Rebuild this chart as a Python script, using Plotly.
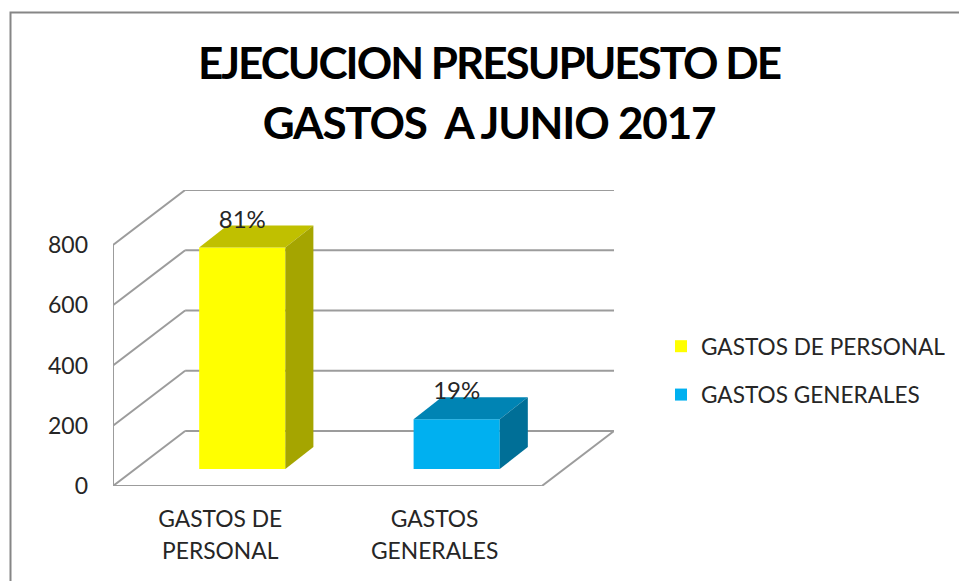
import plotly.graph_objects as go

# ---- data ----
categories = ["GASTOS DE PERSONAL", "GASTOS GENERALES"]
tick_lines = [["GASTOS DE", "PERSONAL"], ["GASTOS", "GENERALES"]]
values = [735, 165]
pct_labels = ["81%", "19%"]
y_ticks = [0, 200, 400, 600, 800]
face_colors = ["#FFFF00", "#00B0F0"]
top_colors = ["#C0C000", "#0084B4"]
side_colors = ["#A5A500", "#006F97"]

TEXT = "#262626"
GRID = "#9C9C9C"
FONT = "Lato, Carlito, 'Liberation Sans', sans-serif"

# pseudo-3D geometry, in axis units
PX_X = 214.0            # pixels per category
PX_Y = 241.0 / 800.0    # pixels per value unit
wall_dx, wall_dy = 72 / PX_X, 55 / PX_Y
bar_dx, bar_dy = 22 / PX_X, 17 / PX_Y
depth_dx, depth_dy = 28 / PX_X, 22 / PX_Y
bar_w = 86 / PX_X

fig = go.Figure()
xs = [i + bar_dx for i in range(len(values))]

for i, (name, v) in enumerate(zip(categories, values)):
    fig.add_trace(go.Bar(
        x=[xs[i]], y=[v], base=[bar_dy], width=[bar_w], name=name,
        marker=dict(color=face_colors[i], line=dict(width=0)),
        legendgroup=name, hoverinfo="skip",
    ))

for i, v in enumerate(values):
    xl, xr = xs[i] - bar_w / 2, xs[i] + bar_w / 2
    y0, y1 = bar_dy, bar_dy + v
    fig.add_trace(go.Scatter(
        x=[xl, xr, xr + depth_dx, xl + depth_dx, xl],
        y=[y1, y1, y1 + depth_dy, y1 + depth_dy, y1],
        fill="toself", fillcolor=top_colors[i], mode="none",
        showlegend=False, hoverinfo="skip"))
    fig.add_trace(go.Scatter(
        x=[xr, xr + depth_dx, xr + depth_dx, xr, xr],
        y=[y0, y0 + depth_dy, y1 + depth_dy, y1, y0],
        fill="toself", fillcolor=side_colors[i], mode="none",
        showlegend=False, hoverinfo="skip"))

fig.add_trace(go.Scatter(
    x=xs, y=[v + bar_dy + 26 / PX_Y for v in values],
    text=pct_labels, mode="text", textposition="middle center",
    textfont=dict(family=FONT, size=24, color=TEXT),
    showlegend=False, hoverinfo="skip"))

# walls and floor
x_left, x_right = -0.5, 1.5
shapes = []
def seg(x0, y0, x1, y1):
    shapes.append(dict(type="line", xref="x", yref="y", x0=x0, y0=y0, x1=x1, y1=y1,
                       layer="below", line=dict(color=GRID, width=2)))
for t in y_ticks:
    seg(x_left, t, x_left + wall_dx, t + wall_dy)
    seg(x_left + wall_dx, t + wall_dy, x_right + wall_dx, t + wall_dy)
seg(x_left, 0, x_left, y_ticks[-1])
seg(x_left, 0, x_right, 0)
seg(x_right, 0, x_right + wall_dx, wall_dy)

# outer chart frame (open on the right and at the bottom), in paper units
W, H = 959, 581
ml, mr, mt, mb = 113, 345, 190, 95
pw, ph = W - ml - mr, H - mt - mb
def px(p): return (p - ml) / pw
def py(p): return 1 - (p - mt) / ph
shapes.append(dict(type="path", xref="paper", yref="paper", layer="below",
                   path=f"M {px(10.5)} {py(581)} L {px(10.5)} {py(12.5)} L {px(959)} {py(12.5)}",
                   line=dict(color="#868686", width=2)))

span = "<span style='font-size:22.8px'>{}</span>"
ticktext = ["<br>".join(span.format(s) for s in lines) for lines in tick_lines]

fig.update_layout(
    width=W, height=H,
    margin=dict(l=ml, r=mr, t=mt, b=mb, autoexpand=False),
    paper_bgcolor="white", plot_bgcolor="rgba(0,0,0,0)",
    shapes=shapes,
    title=dict(
        text="<span style='font-size:44px;letter-spacing:-2px'>EJECUCION PRESUPUESTO DE</span><br>"
             "<span style='font-size:44px;letter-spacing:-1.2px'>GASTOS  A JUNIO 2017</span>",
        x=489 / W, xanchor="center", y=1 - 79 / H, yanchor="top",
        font=dict(family=FONT, size=46, color="#000000", weight="bold")),
    xaxis=dict(range=[x_left, x_right + wall_dx], tickmode="array", tickvals=[0, 1],
               ticktext=ticktext, tickfont=dict(family=FONT, size=24.6, color=TEXT),
               showgrid=False, zeroline=False, showline=False, ticks="",
               ticklabelstandoff=15, tickangle=0),
    yaxis=dict(range=[0, ph / PX_Y], tickmode="array", tickvals=y_ticks,
               tickfont=dict(family=FONT, size=23, color=TEXT),
               showgrid=False, zeroline=False, showline=False, ticks="",
               ticklabelstandoff=24),
    legend=dict(x=(661 - ml) / pw, xanchor="left", y=py(325), yanchor="top",
                font=dict(family=FONT, size=22.6, color=TEXT),
                traceorder="grouped", tracegroupgap=16,
                bgcolor="rgba(0,0,0,0)", borderwidth=0),
    showlegend=True,
    barmode="overlay",
)

fig.write_html("out.html", config={"displayModeBar": False},
               post_script="document.body.style.margin='0';document.body.style.overflow='hidden';")
